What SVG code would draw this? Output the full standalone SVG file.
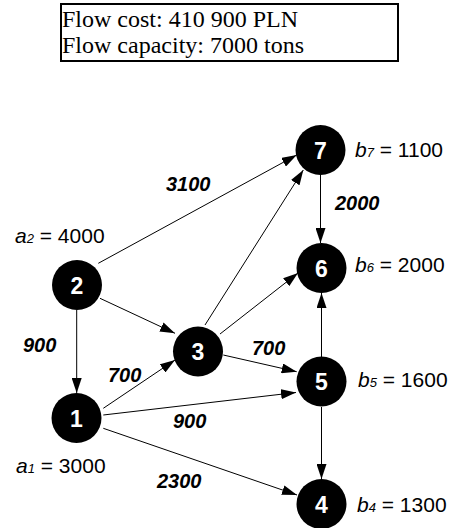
<svg xmlns="http://www.w3.org/2000/svg" width="454" height="528" viewBox="0 0 454 528">
  <style>
    .node circle { fill: #000; }
    .node text { font-family: "Liberation Sans", Arial, sans-serif; font-weight: bold; font-size: 23px; fill: #fff; text-anchor: middle; }
    .edge { stroke: #000; stroke-width: 1; fill: none; marker-end: url(#arrow); }
    .flow { font-family: "Liberation Sans", Arial, sans-serif; font-weight: bold; font-style: italic; font-size: 20px; fill: #000; }
    .qty { font-family: "Liberation Sans", Arial, sans-serif; font-size: 21px; fill: #000; }
    .qty .v { font-style: italic; }
    .qty .s { font-style: italic; font-size: 13px; }
    .summary { font-family: "Liberation Serif", "Times New Roman", serif; font-size: 24px; fill: #000; }
  </style>
  <defs>
    <marker id="arrow" markerUnits="userSpaceOnUse" markerWidth="15" markerHeight="10" refX="15" refY="5" orient="auto">
      <path d="M0,0 L15,5 L0,10 Z" fill="#000"/>
    </marker>
  </defs>

  <rect width="454" height="528" fill="#fff"/>

  <!-- summary box -->
  <g id="summary">
    <rect x="61" y="4" width="337" height="57" fill="#fff" stroke="#000" stroke-width="2"/>
    <text class="summary" x="62" y="27">Flow cost: 410 900 PLN</text>
    <text class="summary" x="62" y="53">Flow capacity: 7000 tons</text>
  </g>

  <!-- arcs -->
  <g id="edges">
    <line class="edge" x1="98.3" y1="263.3" x2="296.7" y2="155"/>
    <line class="edge" x1="100" y1="298.3" x2="175" y2="333.3"/>
    <line class="edge" x1="76.7" y1="310" x2="76.7" y2="393"/>
    <line class="edge" x1="103.3" y1="408.3" x2="175" y2="360"/>
    <line class="edge" x1="103.3" y1="415" x2="296" y2="392.5"/>
    <line class="edge" x1="103.3" y1="428.3" x2="297" y2="495"/>
    <line class="edge" x1="205" y1="325" x2="303.3" y2="170"/>
    <line class="edge" x1="220" y1="334" x2="298" y2="273"/>
    <line class="edge" x1="223.3" y1="355" x2="296.7" y2="371.7"/>
    <line class="edge" x1="320.5" y1="175" x2="320.5" y2="243"/>
    <line class="edge" x1="321.5" y1="357" x2="321.5" y2="293"/>
    <line class="edge" x1="321.5" y1="407" x2="321.5" y2="479"/>
  </g>

  <!-- flow values -->
  <g id="flows">
    <text class="flow" x="166" y="191">3100</text>
    <text class="flow" x="335" y="210">2000</text>
    <text class="flow" x="23" y="352">900</text>
    <text class="flow" x="252" y="355">700</text>
    <text class="flow" x="108" y="382">700</text>
    <text class="flow" x="173" y="428">900</text>
    <text class="flow" x="157" y="488">2300</text>
  </g>

  <!-- nodes -->
  <g id="n1" class="node"><circle cx="76.5" cy="418" r="25"/><text x="76.5" y="426.5">1</text></g>
  <g id="n2" class="node"><circle cx="77" cy="285" r="25"/><text x="77" y="293.5">2</text></g>
  <g id="n3" class="node"><circle cx="198" cy="351.5" r="25"/><text x="198" y="360">3</text></g>
  <g id="n4" class="node"><circle cx="321.5" cy="504" r="25"/><text x="321.5" y="512.5">4</text></g>
  <g id="n5" class="node"><circle cx="321.5" cy="381.5" r="25"/><text x="321.5" y="390">5</text></g>
  <g id="n6" class="node"><circle cx="321.5" cy="268" r="25"/><text x="321.5" y="276.5">6</text></g>
  <g id="n7" class="node"><circle cx="320.5" cy="150" r="25"/><text x="320.5" y="158.5">7</text></g>

  <!-- supplies and demands -->
  <g id="quantities">
    <text class="qty" x="15" y="243"><tspan class="v">a</tspan><tspan class="s">2</tspan> = 4000</text>
    <text class="qty" x="16" y="473"><tspan class="v">a</tspan><tspan class="s">1</tspan> = 3000</text>
    <text class="qty" x="355" y="157"><tspan class="v">b</tspan><tspan class="s">7</tspan> = 1100</text>
    <text class="qty" x="355" y="272"><tspan class="v">b</tspan><tspan class="s">6</tspan> = 2000</text>
    <text class="qty" x="358" y="387"><tspan class="v">b</tspan><tspan class="s">5</tspan> = 1600</text>
    <text class="qty" x="357" y="512"><tspan class="v">b</tspan><tspan class="s">4</tspan> = 1300</text>
  </g>
</svg>
